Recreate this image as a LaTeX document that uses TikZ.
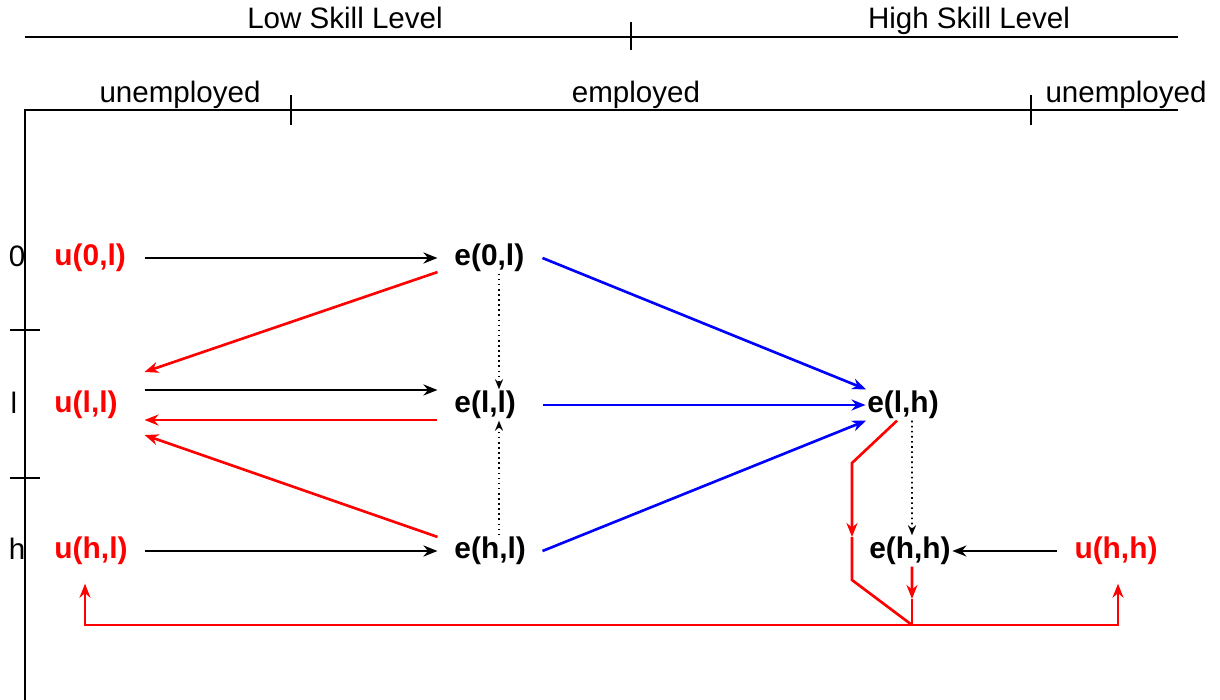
\documentclass[tikz,border=0pt]{standalone}
\usepackage{fontspec}
\setmainfont{Liberation Sans}
\usetikzlibrary{positioning, arrows.meta, calc}

\begin{document}
\begin{tikzpicture}[
  x=0.01cm, y=-0.01cm,
  font=\fontsize{8.4pt}{10pt}\selectfont,
  axis/.style={line width=0.65pt},
  axlabel/.style={anchor=base},
  state/.style={font=\fontsize{8.5pt}{10pt}\selectfont\bfseries,
    inner xsep=0.17cm, inner ysep=0.5pt, outer sep=0pt},
  unemp/.style={state, text=red, text width=0.73cm, align=left},
  emp/.style={state, text width=0.71cm, align=left},
  tight/.style={state, inner xsep=0.5pt},
  flow/.style={-{Stealth[length=0.14cm, width=0.11cm]}, line width=0.75pt},
  hire/.style={flow, draw=black},
  sep/.style={flow, draw=red},
  move/.style={flow, draw=blue},
  learn/.style={-{Stealth[length=0.1cm, width=0.08cm, open]}, densely dotted, line width=0.45pt},
  sepline/.style={line width=0.75pt, draw=red}
]
\useasboundingbox (0,0) rectangle (1220,700);

% skill and employment axes
\node[axlabel] (low)  at (345,28)  {Low Skill Level};
\node[axlabel] (high) at (969,28)  {High Skill Level};
\node[axlabel] (unl)  at (180,103) {unemployed};
\node[axlabel] (lblemp) at (636,103) {employed};
\node[axlabel] (unh)  at (1126,103) {unemployed};
\node[axlabel] (r0) at (17,266) {0};
\node[axlabel] (rl) at (14,413) {l};
\node[axlabel] (rh) at (17,559) {h};

\draw[axis] (25,37) -- (1178,37);
\draw[axis] (631,22) -- (631,50);
\draw[axis] (25,700) -- (25,110) -- (1178,110);
\draw[axis] (291,95) -- (291,125);
\draw[axis] (1031,95) -- (1031,125);
\draw[axis] (10,330) -- (40,330);
\draw[axis] (10,478) -- (40,478);

% states
\node[unemp] (u0l) at (91,258)  {u(0,l)};
\node[unemp] (ull) at (91,405)  {u(l,l)};
\node[unemp] (uhl) at (91,551)  {u(h,l)};
\node[emp]   (e0l) at (490,258) {e(0,l)};
\node[emp]   (ell) at (490,405) {e(l,l)};
\node[emp]   (ehl) at (490,551) {e(h,l)};
\node[tight] (elh) at (903,405) {e(l,h)};
\node[tight] (ehh) at (910,551) {e(h,h)};
\node[state, text=red] (uhh) at (1116,551) {u(h,h)};

% hiring
\draw[hire] (u0l) -- (e0l);
\draw[hire] ([yshift=0.15cm]ull.east) -- ([yshift=0.15cm]ell.west);
\draw[hire] (uhl) -- (ehl);
\draw[hire] (uhh) -- (ehh);

% separations
\draw[sep] ([yshift=-0.15cm]ell.west) -- ([yshift=-0.15cm]ull.east);
\draw[sep] (e0l.195) -- ([yshift=0.33cm]ull.east);
\draw[sep] (ehl.165) -- ([yshift=-0.3cm]ull.east);

% moving up to high skill jobs
\draw[move] (e0l.east) -- (elh.157);
\draw[move] (ell) -- (elh);
\draw[move] (ehl.east) -- (elh.203);

% learning on the job
\draw[learn] ([xshift=0.09cm]e0l.south) -- ([xshift=0.09cm]ell.north);
\draw[learn] ([xshift=0.09cm]ehl.north) -- ([xshift=0.09cm]ell.south);
\draw[learn] ([xshift=0.09cm]elh.south) -- ([xshift=0.02cm]ehh.north);

% job loss from high skill jobs
\coordinate (bendA) at (852,463);
\coordinate (bendM) at (852,537);
\coordinate (bendB) at (852,580);
\coordinate (dropM) at (912,599);
\coordinate (jn)    at (912,625);
\coordinate (cornL) at (85,625);
\coordinate (cornR) at (1118,625);

\draw[sep] ([xshift=-0.06cm]elh.south) -- (bendA) -- (bendM);
\draw[sepline] (bendM) -- (bendB) -- (jn);
\draw[sep] ([xshift=0.02cm]ehh.south) -- (dropM);
\draw[sepline] (dropM) -- (jn);
\draw[sep, shorten >=0.17cm] (jn) -- (cornL) -- (cornL |- uhl.south);
\draw[sep, shorten >=0.17cm] (jn) -- (cornR) -- (cornR |- uhh.south);

\end{tikzpicture}
\end{document}
